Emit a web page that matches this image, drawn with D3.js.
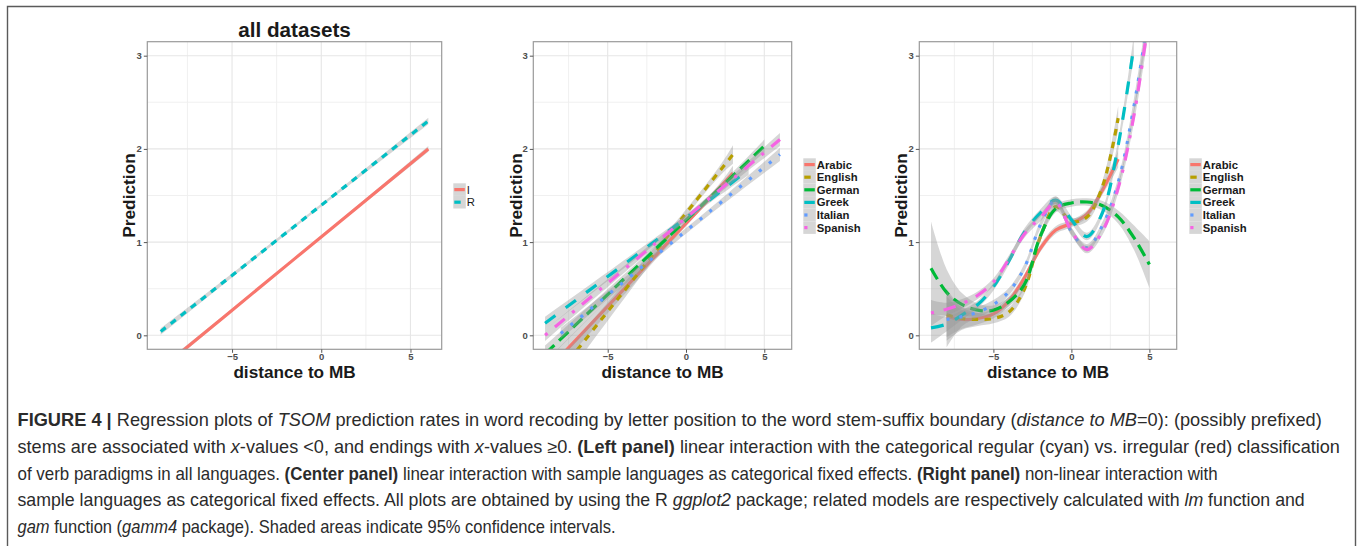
<!DOCTYPE html>
<html><head><meta charset="utf-8">
<script src="https://cdn.jsdelivr.net/npm/d3@7"></script>
<style>body{margin:0;background:#fff}svg{display:block}</style>
</head><body>
<svg id="c" width="1360" height="546"></svg>
<script>
// ---------- axes ----------
const xTicks = [-5, 0, 5];
const yTicks = [0, 1, 2, 3];
const xMinor = [-7.5, -2.5, 2.5];
const yMinor = [0.5, 1.5, 2.5];
const xDomain = [-9.75, 6.75];
const yDomain = [-0.15, 3.15];

// ---------- left panel (regular vs irregular) ----------
const leftGroups = ["I", "R"];
const leftColors = ["#F8766D", "#00BFC4"];
const leftX = [-9, -1.5, 6];
const leftI = [-0.36, 0.82, 2.00];
const leftR = [0.04, 1.17, 2.30];
const leftSeI = [0.03, 0.012, 0.03];
const leftSeR = [0.035, 0.015, 0.035];

// ---------- languages ----------
const languages = ["Arabic", "English", "German", "Greek", "Italian", "Spanish"];
const langColors = ["#F8766D", "#B79F00", "#00BA38", "#00BFC4", "#619CFF", "#F564E3"];

// ---------- center panel (linear) ----------
const linArabicX = [-9, 0, 3],  linArabicY = [-0.40, 1.20, 1.74],  linArabicSe = [0.12, 0.03, 0.08];
const linEnglishX = [-9, 0, 3], linEnglishY = [-0.59, 1.31, 1.94], linEnglishSe = [0.16, 0.04, 0.10];
const linGermanX = [-9, 0, 5],  linGermanY = [-0.20, 1.235, 2.03], linGermanSe = [0.09, 0.03, 0.07];
const linGreekX = [-9, 0, 4],   linGreekY = [0.13, 1.26, 1.78],    linGreekSe = [0.07, 0.03, 0.06];
const linItalianX = [-8, 0, 6], linItalianY = [0.02, 1.12, 1.94],  linItalianSe = [0.06, 0.03, 0.07];
const linSpanishX = [-9, 0, 6], linSpanishY = [0.00, 1.26, 2.10],  linSpanishSe = [0.06, 0.03, 0.07];

// ---------- right panel (gam) ----------
const gamArabicX = [-8,-7,-6,-5,-4,-3,-2,-1,0,1,2,3];
const gamArabicY = [0.20,0.17,0.18,0.23,0.37,0.62,0.93,1.13,1.20,1.30,1.56,1.89];
const gamArabicSe = [0.22,0.10,0.06,0.05,0.05,0.04,0.04,0.04,0.04,0.04,0.05,0.09];
const gamEnglishX = [-8,-7,-6,-5,-4,-3,-2,-1,0,1,2,3];
const gamEnglishY = [0.22,0.18,0.17,0.18,0.25,0.50,1.05,1.38,1.22,1.27,1.60,2.33];
const gamEnglishSe = [0.28,0.12,0.07,0.05,0.05,0.05,0.05,0.05,0.04,0.05,0.06,0.13];
const gamGermanX = [-9,-8,-7,-6,-5,-4,-3,-2,-1,0,1,2,3,4,5];
const gamGermanY = [0.72,0.46,0.33,0.27,0.27,0.36,0.55,1.06,1.36,1.42,1.43,1.39,1.27,1.05,0.76];
const gamGermanSe = [0.50,0.25,0.12,0.07,0.05,0.05,0.05,0.05,0.04,0.04,0.04,0.05,0.07,0.13,0.25];
const gamGreekX = [-9,-8,-7,-6,-5,-4,-3,-2,-1,0,1,2,3,4];
const gamGreekY = [0.08,0.12,0.22,0.33,0.52,0.80,1.11,1.31,1.45,1.24,1.06,1.32,2.04,3.10];
const gamGreekSe = [0.16,0.08,0.05,0.04,0.04,0.04,0.04,0.04,0.04,0.04,0.04,0.04,0.06,0.12];
const gamItalianX = [-8,-7,-6,-5,-4,-3,-2,-1,0,1,2,3,4,5];
const gamItalianY = [0.17,0.20,0.25,0.33,0.47,0.73,1.18,1.45,1.11,0.94,1.18,1.64,2.45,3.50];
const gamItalianSe = [0.30,0.10,0.06,0.05,0.04,0.04,0.04,0.04,0.04,0.04,0.04,0.05,0.08,0.15];
const gamSpanishX = [-9,-8,-7,-6,-5,-4,-3,-2,-1,0,1,2,3,4,5];
const gamSpanishY = [0.24,0.28,0.34,0.43,0.57,0.82,1.09,1.26,1.42,1.12,0.92,1.12,1.58,2.35,3.45];
const gamSpanishSe = [0.14,0.07,0.05,0.04,0.04,0.04,0.04,0.04,0.04,0.04,0.04,0.04,0.05,0.08,0.15];

// ---------- caption ----------
const captionLines = [
  [["b","FIGURE 4 | "],["n","Regression plots of "],["i","TSOM"],["n"," prediction rates in word recoding by letter position to the word stem-suffix boundary ("],["i","distance to MB"],["n","=0): (possibly prefixed)"]],
  [["n","stems are associated with "],["i","x"],["n","-values <0, and endings with "],["i","x"],["n","-values \u22650. "],["b","(Left panel)"],["n"," linear interaction with the categorical regular (cyan) vs. irregular (red) classification"]],
  [["n","of verb paradigms in all languages. "],["b","(Center panel)"],["n"," linear interaction with sample languages as categorical fixed effects. "],["b","(Right panel)"],["n"," non-linear interaction with"]],
  [["n","sample languages as categorical fixed effects. All plots are obtained by using the R "],["i","ggplot2"],["n"," package; related models are respectively calculated with "],["i","lm"],["n"," function and"]],
  [["i","gam"],["n"," function ("],["i","gamm4"],["n"," package). Shaded areas indicate 95% confidence intervals."]]
];
const captionLineEnds = [1322, 1341, 1219, 1306, 616];

// ================= drawing =================
const svg = d3.select("#c");
const FONT = "'Liberation Sans', Arial, Helvetica, sans-serif";
const LW = 3.2;
const dashFor = k => ({solid:null, "22":[2,2], "42":[4,2], "44":[4,4], "13":[1,3], "1343":[1,3,4,3]})[k];
const langDash = ["solid","22","42","44","13","1343"];
const leftDash = ["solid","22"];

// frame
svg.append("path").attr("d","M7.5,546 V6.5 H1355.5 V546")
  .attr("fill","none").attr("stroke","#5a5a5a").attr("stroke-width",1.4);

const panelTop = 41.7, panelBottom = 349.3;
const panels = [
  {left:147.3, right:441.7, ytitleX:135},
  {left:533.3, right:791.7, ytitleX:521.5},
  {left:919.3, right:1176.7, ytitleX:906.5}
];

function makePanel(p, idx, series, legend) {
  const x = d3.scaleLinear().domain(xDomain).range([p.left, p.right]);
  const y = d3.scaleLinear().domain(yDomain).range([panelBottom, panelTop]);
  const g = svg.append("g");
  const clipId = "clip" + idx;
  svg.append("clipPath").attr("id", clipId).append("rect")
    .attr("x", p.left).attr("y", panelTop).attr("width", p.right - p.left).attr("height", panelBottom - panelTop);
  g.append("rect").attr("x", p.left).attr("y", panelTop).attr("width", p.right - p.left)
    .attr("height", panelBottom - panelTop).attr("fill", "#fff");
  // grid
  g.selectAll(".xm").data(xMinor).join("line").attr("x1", d=>x(d)).attr("x2", d=>x(d))
    .attr("y1", panelTop).attr("y2", panelBottom).attr("stroke", "#eeeeee").attr("stroke-width", 0.9);
  g.selectAll(".ym").data(yMinor).join("line").attr("y1", d=>y(d)).attr("y2", d=>y(d))
    .attr("x1", p.left).attr("x2", p.right).attr("stroke", "#eeeeee").attr("stroke-width", 0.9);
  g.selectAll(".xM").data(xTicks).join("line").attr("x1", d=>x(d)).attr("x2", d=>x(d))
    .attr("y1", panelTop).attr("y2", panelBottom).attr("stroke", "#e6e6e6").attr("stroke-width", 1.1);
  g.selectAll(".yM").data(yTicks).join("line").attr("y1", d=>y(d)).attr("y2", d=>y(d))
    .attr("x1", p.left).attr("x2", p.right).attr("stroke", "#e6e6e6").attr("stroke-width", 1.1);

  const data = g.append("g").attr("clip-path", `url(#${clipId})`);
  series.forEach(s => {
    const pts = s.x.map((xv, i) => ({x: xv, y: s.y[i], se: s.se[i]}));
    const curve = s.curve || d3.curveNatural;
    data.append("path").datum(pts)
      .attr("d", d3.area().curve(curve).x(d=>x(d.x)).y0(d=>y(d.y - d.se)).y1(d=>y(d.y + d.se)))
      .attr("fill", "#999999").attr("fill-opacity", 0.4);
    const dash = dashFor(s.dash);
    data.append("path").datum(pts)
      .attr("d", d3.line().curve(curve).x(d=>x(d.x)).y(d=>y(d.y)))
      .attr("fill", "none").attr("stroke", s.color).attr("stroke-width", LW)
      .attr("stroke-dasharray", dash ? dash.map(v=>v*LW).join(" ") : null);
  });

  // border
  g.append("rect").attr("x", p.left).attr("y", panelTop).attr("width", p.right - p.left)
    .attr("height", panelBottom - panelTop).attr("fill", "none").attr("stroke", "#9a9a9a").attr("stroke-width", 1.2);

  // axes
  const ax = svg.append("g").attr("transform", `translate(0,${panelBottom})`)
    .call(d3.axisBottom(x).tickValues(xTicks).tickSize(3.5).tickPadding(0.5).tickFormat(d => d < 0 ? "\u2212" + Math.abs(d) : String(d)));
  const ay = svg.append("g").attr("transform", `translate(${p.left},0)`)
    .call(d3.axisLeft(y).tickValues(yTicks).tickSize(3.5).tickPadding(2).tickFormat(d3.format("d")));
  [ax, ay].forEach(a => {
    a.select(".domain").remove();
    a.selectAll(".tick line").attr("stroke", "#555").attr("stroke-width", 1);
    a.selectAll(".tick text").attr("fill", "#4d4d4d").style("font-family", FONT)
      .style("font-size", "9.5px").style("font-weight", "bold");
  });

  // axis titles
  svg.append("text").attr("x", (p.left + p.right) / 2).attr("y", 378.3).attr("text-anchor", "middle")
    .style("font-family", FONT).style("font-size", "17.2px").style("font-weight", "bold").attr("fill", "#1a1a1a")
    .text("distance to MB");
  svg.append("text").attr("transform", `translate(${p.ytitleX},${(panelTop + panelBottom) / 2}) rotate(-90)`)
    .attr("text-anchor", "middle")
    .style("font-family", FONT).style("font-size", "17.3px").style("font-weight", "bold").attr("fill", "#1a1a1a")
    .text("Prediction");

  // legend
  const kh = 12.6, kw = 12.5;
  const lg = svg.append("g");
  legend.names.forEach((name, i) => {
    const ky = legend.y + i * kh;
    lg.append("rect").attr("x", legend.x).attr("y", ky).attr("width", kw).attr("height", kh)
      .attr("fill", "#d6d6d6");
    const dash = dashFor(legend.dash[i]);
    lg.append("line").attr("x1", legend.x + 1).attr("x2", legend.x + kw - 1)
      .attr("y1", ky + kh / 2).attr("y2", ky + kh / 2)
      .attr("stroke", legend.colors[i]).attr("stroke-width", LW)
      .attr("stroke-dasharray", dash ? dash.map(v=>v*LW).join(" ") : null);
    lg.append("text").attr("x", legend.x + kw + 1).attr("y", ky + kh / 2).attr("dy", "0.36em")
      .style("font-family", FONT).style("font-size", legend.size + "px")
      .style("font-weight", legend.bold ? "bold" : "normal").attr("fill", "#1a1a1a").text(name);
  });
  return {x, y};
}

// left panel
makePanel(panels[0], 0, [
  {x: leftX, y: leftI, se: leftSeI, color: leftColors[0], dash: leftDash[0]},
  {x: leftX, y: leftR, se: leftSeR, color: leftColors[1], dash: leftDash[1]}
], {names: leftGroups, colors: leftColors, dash: leftDash, x: 453.3, y: 183.3, size: 11.3, bold: false});

svg.append("text").attr("x", (panels[0].left + panels[0].right) / 2).attr("y", 37).attr("text-anchor", "middle")
  .style("font-family", FONT).style("font-size", "20.7px").style("font-weight", "bold").attr("fill", "#1a1a1a")
  .text("all datasets");

// center panel
const linX = [linArabicX, linEnglishX, linGermanX, linGreekX, linItalianX, linSpanishX];
const linY = [linArabicY, linEnglishY, linGermanY, linGreekY, linItalianY, linSpanishY];
const linSe = [linArabicSe, linEnglishSe, linGermanSe, linGreekSe, linItalianSe, linSpanishSe];
makePanel(panels[1], 1, languages.map((l, i) => ({x: linX[i], y: linY[i], se: linSe[i], color: langColors[i], dash: langDash[i]})),
  {names: languages, colors: langColors, dash: langDash, x: 803.3, y: 158.3, size: 11.3, bold: true});

// right panel
const gamX = [gamArabicX, gamEnglishX, gamGermanX, gamGreekX, gamItalianX, gamSpanishX];
const gamY = [gamArabicY, gamEnglishY, gamGermanY, gamGreekY, gamItalianY, gamSpanishY];
const gamSe = [gamArabicSe, gamEnglishSe, gamGermanSe, gamGreekSe, gamItalianSe, gamSpanishSe];
makePanel(panels[2], 2, languages.map((l, i) => ({x: gamX[i], y: gamY[i], se: gamSe[i], color: langColors[i], dash: langDash[i], curve: d3.curveCatmullRom.alpha(0.5)})),
  {names: languages, colors: langColors, dash: langDash, x: 1189.3, y: 158.3, size: 11.3, bold: true});

// caption: each line squeezed horizontally to mimic the condensed face
const capFont = "'Liberation Sans', Arial, sans-serif";
const capX = 17.5, capY0 = 426, capDy = 26.8;
captionLines.forEach((parts, li) => {
  const g = svg.append("g");
  const t = g.append("text").attr("x", 0).attr("y", 0)
    .style("font-family", capFont).style("font-size", "17.5px").attr("fill", "#2b2b2b");
  parts.forEach(([st, s]) => {
    t.append("tspan").text(s)
      .style("font-weight", st === "b" ? "bold" : "normal")
      .style("font-style", st === "i" ? "italic" : "normal");
  });
  const w = t.node().getComputedTextLength();
  const sx = (captionLineEnds[li] - capX) / w;
  g.attr("transform", `translate(${capX},${capY0 + li * capDy}) scale(${sx.toFixed(4)},1)`);
});
</script>
</body></html>
